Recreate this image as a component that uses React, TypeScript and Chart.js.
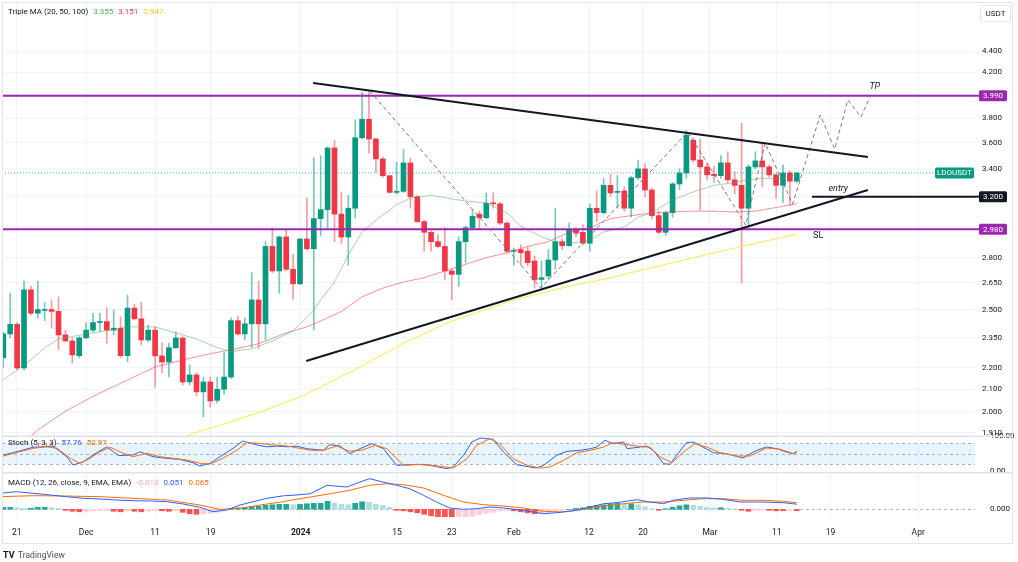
import { useEffect, useRef } from 'react';
import { Chart, registerables } from 'chart.js';

Chart.register(...registerables);

const FONT = 'Roboto, "Liberation Sans", Arial, sans-serif';
const W = 1018;
const H = 562;

// ---------------- data ----------------
// daily candles, index 0 = Nov 19 2023 ... index 115 = Mar 13 2024
const candleOpen = [
  2.25, 2.37, 2.42, 2.20, 2.61, 2.48, 2.495, 2.50, 2.49, 2.365,
  2.334, 2.26, 2.35, 2.39, 2.43, 2.435, 2.39, 2.40, 2.26, 2.508,
  2.45, 2.339, 2.39, 2.259, 2.229, 2.30, 2.349, 2.134, 2.167, 2.088,
  2.134, 2.05, 2.10, 2.157, 2.44, 2.37, 2.423, 2.553, 2.423, 2.87,
  2.72, 2.93, 2.73, 2.645, 2.917, 2.855, 3.05, 3.11, 3.56, 3.08,
  2.93, 3.12, 3.64, 3.79, 3.63, 3.475, 3.35, 3.23, 3.237, 3.445,
  3.20, 3.03, 2.96, 2.90, 2.87, 2.72, 2.70, 2.90, 2.99, 3.08,
  3.055, 3.155, 3.15, 3.02, 2.84, 2.85, 2.84, 2.78, 2.67, 2.69,
  2.786, 2.90, 2.875, 2.975, 2.96, 2.89, 3.12, 3.09, 3.28, 3.23,
  3.24, 3.12, 3.335, 3.40, 3.247, 3.07, 2.96, 3.09, 3.29, 3.37,
  3.62, 3.467, 3.415, 3.36, 3.35, 3.445, 3.32, 3.28, 3.12, 3.415,
  3.46, 3.415, 3.356, 3.28, 3.37, 3.31,
];
const candleHigh = [
  2.38, 2.59, 2.43, 2.66, 2.63, 2.66, 2.54, 2.55, 2.57, 2.39,
  2.35, 2.355, 2.43, 2.48, 2.48, 2.51, 2.498, 2.46, 2.58, 2.53,
  2.54, 2.417, 2.407, 2.323, 2.323, 2.38, 2.355, 2.215, 2.177, 2.157,
  2.157, 2.157, 2.275, 2.455, 2.465, 2.455, 2.71, 2.66, 2.90, 2.99,
  2.935, 2.98, 2.82, 2.92, 3.19, 3.485, 3.50, 3.567, 3.62, 3.233,
  3.21, 3.784, 4.02, 4.04, 3.64, 3.49, 3.35, 3.45, 3.55, 3.48,
  3.21, 3.04, 2.97, 2.945, 2.99, 2.73, 2.93, 3.00, 3.11, 3.10,
  3.226, 3.226, 3.16, 3.03, 2.86, 2.88, 2.87, 2.81, 2.78, 2.85,
  3.12, 2.92, 3.02, 2.99, 3.01, 3.15, 3.24, 3.33, 3.36, 3.35,
  3.27, 3.345, 3.467, 3.44, 3.26, 3.10, 3.10, 3.30, 3.40, 3.70,
  3.64, 3.63, 3.44, 3.42, 3.50, 3.53, 3.38, 3.757, 3.43, 3.53,
  3.60, 3.43, 3.37, 3.43, 3.385, 3.375,
];
const candleLow = [
  2.20, 2.35, 2.19, 2.19, 2.47, 2.455, 2.44, 2.40, 2.29, 2.33,
  2.224, 2.25, 2.345, 2.38, 2.38, 2.323, 2.365, 2.25, 2.229, 2.445,
  2.313, 2.33, 2.11, 2.177, 2.157, 2.295, 2.12, 2.12, 2.07, 1.977,
  2.02, 2.038, 2.078, 2.15, 2.365, 2.339, 2.30, 2.294, 2.339, 2.71,
  2.59, 2.72, 2.558, 2.64, 2.85, 2.391, 2.94, 2.98, 2.90, 2.89,
  2.755, 3.054, 3.63, 3.52, 3.376, 3.34, 3.226, 3.22, 3.23, 3.12,
  3.025, 2.84, 2.84, 2.86, 2.667, 2.553, 2.63, 2.77, 2.98, 2.98,
  3.05, 3.12, 3.01, 2.83, 2.755, 2.755, 2.75, 2.62, 2.62, 2.667,
  2.73, 2.85, 2.87, 2.93, 2.88, 2.84, 3.03, 3.08, 3.20, 3.12,
  3.10, 3.06, 3.32, 3.20, 3.05, 2.95, 2.94, 3.06, 3.25, 3.33,
  3.45, 3.108, 3.32, 3.30, 3.33, 3.30, 3.22, 2.65, 2.99, 3.40,
  3.27, 3.34, 3.19, 3.16, 3.14, 3.30,
];
const candleClose = [
  2.37, 2.42, 2.20, 2.61, 2.48, 2.50, 2.50, 2.49, 2.365, 2.334,
  2.264, 2.35, 2.39, 2.43, 2.435, 2.39, 2.40, 2.26, 2.508, 2.45,
  2.339, 2.39, 2.259, 2.229, 2.30, 2.349, 2.134, 2.167, 2.088, 2.134,
  2.047, 2.10, 2.157, 2.44, 2.37, 2.423, 2.553, 2.423, 2.87, 2.72,
  2.93, 2.73, 2.645, 2.917, 2.855, 3.05, 3.11, 3.559, 3.08, 2.93,
  3.12, 3.64, 3.79, 3.63, 3.475, 3.35, 3.23, 3.237, 3.445, 3.20,
  3.03, 2.96, 2.90, 2.87, 2.72, 2.70, 2.90, 2.99, 3.065, 3.055,
  3.155, 3.15, 3.02, 2.84, 2.845, 2.83, 2.77, 2.667, 2.68, 2.786,
  2.90, 2.875, 2.975, 2.955, 2.89, 3.12, 3.09, 3.28, 3.226, 3.235,
  3.12, 3.335, 3.40, 3.247, 3.07, 2.96, 3.09, 3.29, 3.37, 3.66,
  3.467, 3.415, 3.356, 3.35, 3.445, 3.32, 3.28, 3.12, 3.415, 3.46,
  3.415, 3.356, 3.28, 3.37, 3.31, 3.37,
];

// moving averages: [candle index, value]
const ma20: [number, number][] = [
  [0, 2.143], [2, 2.191], [4, 2.24], [6, 2.30], [8, 2.344], [12, 2.37], [15, 2.386], [18, 2.407],
  [22, 2.407], [25, 2.375], [28, 2.344], [31, 2.30], [33, 2.28], [36, 2.294], [39, 2.334], [42, 2.386],
  [45, 2.498], [46, 2.553], [48, 2.655], [50, 2.817], [52, 2.96], [54, 3.04], [57, 3.142], [59, 3.19],
  [62, 3.21], [65, 3.184], [67, 3.17], [70, 3.155], [73, 3.088], [75, 3.0], [78, 2.93], [80, 2.90],
  [83, 2.893], [85, 2.91], [87, 2.962], [90, 2.995], [92, 3.06], [94, 3.088], [97, 3.177], [100, 3.233],
  [103, 3.28], [106, 3.30], [108, 3.32], [110, 3.33], [112, 3.33], [115, 3.355],
];
const ma50: [number, number][] = [
  [3, 1.87], [5, 1.921], [9, 2.002], [14, 2.083], [18, 2.143], [22, 2.205], [26, 2.239], [30, 2.27],
  [33, 2.289], [37, 2.32], [41, 2.375], [44, 2.407], [46, 2.438], [49, 2.49], [52, 2.57], [55, 2.62],
  [58, 2.655], [61, 2.68], [64, 2.72], [67, 2.76], [70, 2.80], [73, 2.83], [76, 2.87], [79, 2.90],
  [82, 2.96], [85, 2.99], [88, 3.05], [91, 3.07], [94, 3.088], [97, 3.095], [100, 3.10], [103, 3.10],
  [106, 3.095], [109, 3.10], [112, 3.125], [115, 3.151],
];
const ma100: [number, number][] = [
  [25, 1.88], [29, 1.921], [33, 1.955], [38, 2.007], [43, 2.065], [46, 2.11], [52, 2.21], [58, 2.323],
  [65, 2.438], [74, 2.553], [83, 2.64], [87, 2.67], [94, 2.74], [101, 2.81], [108, 2.88], [115, 2.947],
];

// stochastic %K / %D
const stochK: [number, number][] = [
  [0, 46.6], [1.4, 53], [2.9, 61], [4.3, 68.6], [5.8, 70], [7.2, 72], [9.2, 41.7], [10.1, 18], [11.6, 27],
  [13, 46.6], [15, 70], [16.7, 45], [18.8, 46.6], [19.8, 56], [21.7, 41.7], [23.7, 37], [25.6, 34],
  [27.5, 24.6], [28.5, 15], [30, 23], [31.4, 41.7], [33.3, 65.7], [34.7, 86.6], [36.8, 75], [38.2, 70],
  [39.7, 72], [41.1, 70], [42.5, 72], [44, 64.6], [46.4, 60], [47.3, 76], [48.8, 72.3], [50.2, 50.3],
  [51.7, 64.6], [53.4, 78.9], [55.1, 64.6], [57, 17.1], [59.9, 20], [61.8, 17.1], [64.3, 7.4], [65.2, 12.3],
  [66.7, 45.7], [67.9, 83.7], [69.1, 95], [71, 91.4], [72.5, 55], [74.4, 18.9], [76.3, 12.3], [77.3, 9.4],
  [78.3, 17.1], [80.2, 45.7], [81.7, 57.1], [83.6, 60], [85.1, 64.6], [86, 69.4], [87.2, 88.6], [88.4, 78.9],
  [89.9, 83.7], [90.4, 64.6], [92.3, 69.4], [93.2, 72.3], [94.2, 60], [95.7, 21.7], [96.6, 20], [97.6, 45.7],
  [99, 81.7], [100, 83.7], [101.4, 69.4], [102.9, 53.1], [104.8, 50.3], [107.2, 38], [109.2, 60], [110.6, 69.4],
  [112.1, 64.6], [113.5, 55], [114.5, 50.3], [115, 57.76],
];
const stochD: [number, number][] = [
  [0, 43.7], [2.4, 56], [4.3, 65.7], [6.3, 70], [7.8, 65.7], [9.7, 37.1], [11.1, 22.9], [12.6, 37.1],
  [14, 56], [15.5, 68.6], [17.4, 51.4], [18.8, 41.7], [20.8, 51.4], [22.7, 41.7], [24.6, 37.1], [26.6, 32.3],
  [28.5, 22.9], [30, 20.9], [31.8, 37.1], [33.9, 60.9], [35.3, 81.7], [37.2, 80], [39.1, 75.1], [41.1, 72.3],
  [44.5, 60], [46.4, 60], [48.3, 72.3], [50.2, 57.1], [51.9, 60], [54, 74.3], [55.6, 64.6], [58, 17.1],
  [60.9, 20], [63.3, 14.3], [65.2, 9.4], [67.2, 36], [68.6, 74.3], [70.5, 93.1], [71.9, 78.9], [73.9, 36],
  [75.9, 17.1], [77.8, 9.4], [79.2, 12.3], [81.2, 31.4], [83.1, 53.1], [85.1, 60], [87, 69.4], [88.4, 81.7],
  [90.4, 76], [92.8, 69.4], [93.7, 69.4], [95.2, 40.9], [96.9, 24.6], [98.6, 55.1], [100.2, 78.9], [101.9, 69.4],
  [103.9, 53.1], [106.3, 43.7], [108.2, 43.7], [110.6, 66.6], [112.6, 62.9], [114.5, 50.3], [115, 52.97],
];

// MACD line / signal line / histogram
const macdLine: [number, number][] = [
  [-0.5, 0.16], [1.9, 0.176], [4.3, 0.16], [6.8, 0.143], [9.2, 0.126], [11.6, 0.11], [14, 0.103], [16.4, 0.093],
  [18.8, 0.086], [21.3, 0.083], [23.7, 0.076], [26.1, 0.053], [28.5, 0.02], [30.4, -0.024], [32.4, -0.007],
  [34.3, 0.043], [36.2, 0.076], [38.2, 0.11], [40.6, 0.135], [42, 0.14], [44.5, 0.156], [46.9, 0.24],
  [49.8, 0.223], [51.7, 0.273], [53.1, 0.306], [54.6, 0.28], [57, 0.24], [58.9, 0.206], [60.9, 0.14],
  [62.8, 0.073], [64.7, 0.013], [66.7, 0], [68.6, 0.006], [70.5, 0.023], [72.5, 0.013], [75.4, -0.01],
  [78.3, -0.044], [80.2, -0.034], [83.1, -0.01], [85.1, 0.023], [87, 0.056], [88.9, 0.066], [91.8, 0.096],
  [93.7, 0.073], [95.7, 0.056], [97.1, 0.09], [99.5, 0.113], [102.1, 0.113], [104.3, 0.1], [106.8, 0.073],
  [110.1, 0.073], [113.1, 0.066], [115, 0.051],
];
const macdSignal: [number, number][] = [
  [-0.5, 0.126], [4.3, 0.136], [9.2, 0.133], [14, 0.126], [18.8, 0.11], [23.7, 0.093], [28.5, 0.043],
  [31.4, 0.0], [34.3, 0.01], [37.2, 0.043], [40.6, 0.076], [41.6, 0.09], [44.5, 0.123], [47.4, 0.156],
  [50.2, 0.19], [53.1, 0.24], [55.6, 0.256], [58, 0.246], [60.9, 0.213], [63.8, 0.14], [66.7, 0.073],
  [69.6, 0.046], [72.5, 0.033], [75.4, 0.013], [78.3, -0.02], [81.2, -0.027], [84.1, 0], [87, 0.033],
  [89.9, 0.056], [92.8, 0.073], [95.7, 0.073], [98.6, 0.09], [101.4, 0.106], [104.4, 0.106], [107.2, 0.09],
  [110.2, 0.09], [113.1, 0.08], [115, 0.065],
];
const macdHist = [
  0.02, 0.02, 0.015, 0.01, 0.01, 0.02, 0.02, 0.015, 0.01, -0.01,
  -0.02, -0.025, -0.02, -0.015, -0.012, -0.01, -0.02, -0.025, -0.015, -0.02,
  -0.025, -0.02, -0.01, -0.015, -0.02, -0.015, -0.03, -0.045, -0.05, -0.045,
  -0.04, -0.03, -0.015, 0.01, 0.015, 0.02, 0.03, 0.03, 0.04, 0.045,
  0.05, 0.05, 0.045, 0.05, 0.055, 0.06, 0.06, 0.08, 0.06, 0.05,
  0.045, 0.06, 0.075, 0.07, 0.05, 0.04, 0.02, -0.01, -0.015, -0.025,
  -0.035, -0.05, -0.065, -0.085, -0.1, -0.11, -0.1, -0.085, -0.07, -0.05,
  -0.04, -0.03, -0.015, -0.01, -0.015, -0.025, -0.035, -0.045, -0.04, -0.03,
  -0.02, -0.01, 0.0, 0.01, 0.015, 0.03, 0.04, 0.045, 0.055, 0.06,
  0.05, 0.055, 0.045, 0.025, 0.005, -0.01, 0.005, 0.02, 0.035, 0.045,
  0.04, 0.03, 0.02, 0.015, 0.015, 0.01, 0.005, -0.01, -0.02, -0.01,
  -0.005, -0.01, -0.015, -0.015, -0.01, -0.013,
];

// drawings
const upperTrend: [number, number][] = [[44.9, 4.103], [125.3, 3.49]];
const lowerTrend: [number, number][] = [[43.9, 2.234], [125.3, 3.247]];
const zigzag: [number, number][] = [
  [53.1, 4.032], [77.9, 2.621], [99.2, 3.686], [107.6, 3.008], [110.4, 3.598], [114.4, 3.149],
  [118.4, 3.825], [120.5, 3.551], [122.4, 3.953], [124.3, 3.809], [125.6, 3.979],
];
const resistanceLevel = 3.99;
const supportLevel = 2.98;
const entryLevel = 3.2;
const entryStart = 117.2;
const lastPrice = 3.37;
const lastLineEnd = 135;
const tpLabel: [number, number] = [126.3, 4.067];
const entryLabel: [number, number] = [121, 3.254];
const slLabel: [number, number] = [118.1, 2.937];

// axes
const xTickPos = [1.94, 12.0, 22.0, 30.06, 43.1, 57.06, 65.0, 74.0, 84.9, 92.7, 102.4, 112.1, 119.9, 132.6];
const xTickLabels = ['21', 'Dec', '11', '19', '2024', '15', '23', 'Feb', '12', '20', 'Mar', '11', '19', 'Apr'];
const priceTicks = [4.4, 4.2, 4.0, 3.8, 3.6, 3.4, 3.2, 3.0, 2.8, 2.65, 2.5, 2.35, 2.2, 2.1, 2.0, 1.91];
const priceTickHidden = [4.0, 3.2, 3.0];
const stochTicks = [0, 100];
const stochLevels = [80, 50, 20];
const macdTicks = [0];

const X_MIN = -0.19;
const X_MAX = 140.83;
const PRICE_MIN = 1.896;
const PRICE_MAX = 4.887;
const MACD_MIN = -0.077;
const MACD_MAX = 0.353;

// ---------------- styles ----------------
const UP = '#089981';
const DOWN = '#f23645';
const UP_WICK = 'rgba(8,153,129,0.55)';
const DOWN_WICK = 'rgba(242,54,69,0.5)';
const PURPLE = '#9c27b0';
const TEXT = '#131722';
const GRID = '#f0f3fa';
const AXIS_W = 43;

const pts = (a: [number, number][]) => a.map(([x, y]) => ({ x, y }));

function lineDs(a: [number, number][], color: string, width: number, order: number, extra: any = {}) {
  return {
    type: 'line',
    data: pts(a),
    borderColor: color,
    borderWidth: width,
    pointRadius: 0,
    fill: false,
    tension: 0,
    order,
    ...extra,
  };
}

function xScale(showLabels: boolean): any {
  return {
    type: 'linear',
    min: X_MIN,
    max: X_MAX,
    bounds: 'data',
    offset: false,
    grid: { color: GRID, drawTicks: false, offset: false },
    border: { display: false },
    afterBuildTicks: (s: any) => {
      s.ticks = xTickPos.map((v) => ({ value: v }));
    },
    afterFit: (s: any) => {
      s.height = showLabels ? 26 : 0;
      s.paddingLeft = 0;
      s.paddingRight = 0;
    },
    ticks: {
      display: showLabels,
      autoSkip: false,
      maxRotation: 0,
      padding: 11,
      color: TEXT,
      font: (c: any) => ({ family: FONT, size: 8.5, weight: xTickLabels[c.index] === '2024' ? 'bold' : 'normal' }),
      callback: (_v: any, i: number) => xTickLabels[i],
    },
  };
}

function yAxisBase(): any {
  return {
    position: 'right',
    bounds: 'data',
    border: { display: false },
    afterFit: (s: any) => {
      s.width = AXIS_W;
      s.paddingTop = 0;
      s.paddingBottom = 0;
    },
  };
}

function roundRect(ctx: any, x: number, y: number, w: number, h: number, r: number) {
  ctx.beginPath();
  ctx.moveTo(x + r, y);
  ctx.arcTo(x + w, y, x + w, y + h, r);
  ctx.arcTo(x + w, y + h, x, y + h, r);
  ctx.arcTo(x, y + h, x, y, r);
  ctx.arcTo(x, y, x + w, y, r);
  ctx.closePath();
}

function drawLegend(ctx: any, x: number, y: number, parts: [string, string][]) {
  ctx.font = `8px ${FONT}`;
  ctx.textAlign = 'left';
  ctx.textBaseline = 'middle';
  let cx = x;
  parts.forEach(([t, c]) => {
    ctx.fillStyle = c;
    ctx.fillText(t, cx, y);
    cx += ctx.measureText(t).width + 5;
  });
}

const mainOverlay = {
  id: 'mainOverlay',
  afterDraw(chart: any) {
    const { ctx, chartArea: a } = chart;
    const x = chart.scales.x;
    const y = chart.scales.y;
    ctx.save();

    // drawing labels
    ctx.fillStyle = TEXT;
    ctx.textAlign = 'center';
    ctx.textBaseline = 'middle';
    ctx.font = `italic 9px ${FONT}`;
    ctx.fillText('TP', x.getPixelForValue(tpLabel[0]), y.getPixelForValue(tpLabel[1]));
    ctx.fillText('entry', x.getPixelForValue(entryLabel[0]), y.getPixelForValue(entryLabel[1]));
    ctx.font = `9px ${FONT}`;
    ctx.fillText('SL', x.getPixelForValue(slLabel[0]), y.getPixelForValue(slLabel[1]));

    // symbol tag on the last price
    const py = y.getPixelForValue(lastPrice);
    ctx.fillStyle = UP;
    roundRect(ctx, a.right - 40, py - 5.5, 39, 11, 2);
    ctx.fill();
    ctx.fillStyle = '#fff';
    ctx.font = `8px ${FONT}`;
    ctx.fillText('LDOUSDT', a.right - 20.5, py + 0.5);

    // price tags on the axis
    const tag = (v: number, bg: string) => {
      const ty = y.getPixelForValue(v);
      ctx.fillStyle = bg;
      ctx.fillRect(a.right, ty - 1, 6, 2);
      roundRect(ctx, a.right + 4, ty - 5.5, 28, 11, 1.5);
      ctx.fill();
      ctx.fillStyle = '#fff';
      ctx.font = `8px ${FONT}`;
      ctx.textAlign = 'center';
      ctx.fillText(v.toFixed(3), a.right + 18, ty + 0.5);
    };
    tag(resistanceLevel, PURPLE);
    tag(entryLevel, TEXT);
    tag(supportLevel, PURPLE);

    // currency box
    ctx.strokeStyle = '#e0e3eb';
    ctx.lineWidth = 1;
    roundRect(ctx, a.right + 5.5, 5.5, 30, 16, 3);
    ctx.fillStyle = '#fff';
    ctx.fill();
    ctx.stroke();
    ctx.fillStyle = TEXT;
    ctx.font = `8px ${FONT}`;
    ctx.textAlign = 'center';
    ctx.fillText('USDT', a.right + 20.5, 14);

    // legend
    drawLegend(ctx, 8, 12, [
      ['Triple MA (20, 50, 100)', TEXT],
      [ma20[ma20.length - 1][1].toFixed(3), '#4caf50'],
      [ma50[ma50.length - 1][1].toFixed(3), '#f23645'],
      [ma100[ma100.length - 1][1].toFixed(3), '#e3d400'],
    ]);
    ctx.restore();
  },
};

const stochOverlay = {
  id: 'stochOverlay',
  beforeDatasetsDraw(chart: any) {
    const { ctx, chartArea: a } = chart;
    const y = chart.scales.y;
    ctx.save();
    const y80 = y.getPixelForValue(stochLevels[0]);
    const y20 = y.getPixelForValue(stochLevels[2]);
    ctx.fillStyle = 'rgba(33,150,243,0.1)';
    ctx.fillRect(a.left, y80, a.right - a.left, y20 - y80);
    ctx.strokeStyle = 'rgba(120,123,134,0.55)';
    ctx.lineWidth = 1;
    ctx.setLineDash([3, 3]);
    stochLevels.forEach((v) => {
      const ly = Math.round(y.getPixelForValue(v)) + 0.5;
      ctx.beginPath();
      ctx.moveTo(a.left, ly);
      ctx.lineTo(a.right, ly);
      ctx.stroke();
    });
    ctx.restore();
  },
  afterDraw(chart: any) {
    const { ctx } = chart;
    ctx.save();
    drawLegend(ctx, 8, 443, [
      ['Stoch (5, 3, 3)', TEXT],
      [stochK[stochK.length - 1][1].toFixed(2), '#2962ff'],
      [stochD[stochD.length - 1][1].toFixed(2), '#ff6d00'],
    ]);
    ctx.restore();
  },
};

const macdOverlay = {
  id: 'macdOverlay',
  beforeDatasetsDraw(chart: any) {
    const { ctx, chartArea: a } = chart;
    const y = chart.scales.y;
    ctx.save();
    ctx.strokeStyle = 'rgba(120,123,134,0.55)';
    ctx.lineWidth = 1;
    ctx.setLineDash([3, 3]);
    const ly = Math.round(y.getPixelForValue(0)) + 0.5;
    ctx.beginPath();
    ctx.moveTo(a.left, ly);
    ctx.lineTo(a.right, ly);
    ctx.stroke();
    ctx.restore();
  },
  afterDraw(chart: any) {
    const { ctx } = chart;
    ctx.save();
    drawLegend(ctx, 8, 483, [
      ['MACD (12, 26, close, 9, EMA, EMA)', TEXT],
      [macdHist[macdHist.length - 1].toFixed(3), '#f7a6ad'],
      [macdLine[macdLine.length - 1][1].toFixed(3), '#2962ff'],
      [macdSignal[macdSignal.length - 1][1].toFixed(3), '#ff6d00'],
    ]);
    // pane separators and frame
    ctx.fillStyle = '#e0e3eb';
    ctx.fillRect(2, 435.5, 1011, 1.5);
    ctx.fillRect(2, 472, 1011, 1.5);
    ctx.strokeStyle = '#e0e3eb';
    ctx.lineWidth = 1;
    ctx.strokeRect(2.5, 2.5, 1010, 541);
    // logo
    ctx.fillStyle = TEXT;
    ctx.font = `bold 9px ${FONT}`;
    ctx.textAlign = 'left';
    ctx.textBaseline = 'middle';
    ctx.fillText('TV', 3, 556);
    ctx.fillStyle = '#50535e';
    ctx.font = `8.5px ${FONT}`;
    ctx.fillText('TradingView', 18, 556);
    ctx.restore();
  },
};

const commonOptions = {
  responsive: false,
  animation: false,
  events: [],
  plugins: { legend: { display: false }, tooltip: { enabled: false } },
};

function mainConfig(): any {
  const up = candleOpen.map((o, i) => candleClose[i] >= o);
  const bodies = candleOpen.map((o, i) => ({ x: i, y: [o, candleClose[i]] }));
  const wicks = candleLow.map((l, i) => ({ x: i, y: [l, candleHigh[i]] }));
  return {
    type: 'bar',
    data: {
      datasets: [
        lineDs(upperTrend, TEXT, 2, 0),
        lineDs(lowerTrend, TEXT, 2, 0),
        lineDs(zigzag, '#787b86', 1, 0, { borderDash: [4, 3] }),
        lineDs([[X_MIN, resistanceLevel], [X_MAX, resistanceLevel]], PURPLE, 2, 0),
        lineDs([[X_MIN, supportLevel], [X_MAX, supportLevel]], PURPLE, 2, 0),
        lineDs([[entryStart, entryLevel], [X_MAX, entryLevel]], TEXT, 2, 0),
        lineDs([[X_MIN, lastPrice], [lastLineEnd, lastPrice]], 'rgba(8,153,129,0.75)', 1, 1, { borderDash: [1, 2] }),
        lineDs(ma20, 'rgba(76,175,80,0.5)', 1, 1),
        lineDs(ma50, 'rgba(242,54,69,0.55)', 1, 1),
        lineDs(ma100, 'rgba(250,230,40,0.85)', 1, 1),
        {
          type: 'bar',
          data: bodies,
          backgroundColor: up.map((u) => (u ? UP : DOWN)),
          barThickness: 5,
          grouped: false,
          minBarLength: 1,
          order: 2,
        },
        {
          type: 'bar',
          data: wicks,
          backgroundColor: up.map((u) => (u ? UP_WICK : DOWN_WICK)),
          barThickness: 1,
          grouped: false,
          order: 3,
        },
      ],
    },
    options: {
      ...commonOptions,
      layout: { padding: { left: 2, right: 0, top: 3, bottom: 126 } },
      scales: {
        x: xScale(false),
        y: {
          ...yAxisBase(),
          type: 'logarithmic',
          min: PRICE_MIN,
          max: PRICE_MAX,
          grid: { color: GRID, drawTicks: false },
          afterBuildTicks: (s: any) => {
            s.ticks = priceTicks.map((v) => ({ value: v }));
          },
          ticks: {
            autoSkip: false,
            padding: 7,
            color: TEXT,
            font: { family: FONT, size: 8 },
            callback: (v: number) => (priceTickHidden.includes(v) ? '' : Number(v).toFixed(3)),
          },
        },
      },
    },
    plugins: [mainOverlay],
  };
}

function stochConfig(): any {
  return {
    type: 'line',
    data: {
      datasets: [
        lineDs(stochK, '#2962ff', 1, 1),
        lineDs(stochD, '#ff6d00', 1, 0),
      ],
    },
    options: {
      ...commonOptions,
      layout: { padding: { left: 2, right: 0, top: 436.3, bottom: 90.7 } },
      scales: {
        x: xScale(false),
        y: {
          ...yAxisBase(),
          type: 'linear',
          min: 0,
          max: 100,
          grid: { display: false },
          afterBuildTicks: (s: any) => {
            s.ticks = stochTicks.map((v) => ({ value: v }));
          },
          ticks: {
            autoSkip: false,
            padding: 7,
            color: TEXT,
            font: { family: FONT, size: 8 },
            callback: (v: number) => Number(v).toFixed(2),
          },
        },
      },
    },
    plugins: [stochOverlay],
  };
}

function macdConfig(): any {
  const colors = macdHist.map((v, i) => {
    const prev = i > 0 ? macdHist[i - 1] : v;
    if (v >= 0) return v >= prev ? '#26a69a' : '#b2dfdb';
    return v <= prev ? '#ff5252' : '#ffcdd2';
  });
  return {
    type: 'bar',
    data: {
      datasets: [
        lineDs(macdLine, '#2962ff', 1, 0),
        lineDs(macdSignal, '#ff6d00', 1, 0),
        {
          type: 'bar',
          data: macdHist.map((v, i) => ({ x: i, y: v })),
          backgroundColor: colors,
          barThickness: 5,
          grouped: false,
          order: 2,
        },
      ],
    },
    options: {
      ...commonOptions,
      layout: { padding: { left: 2, right: 0, top: 474, bottom: 19 } },
      scales: {
        x: xScale(true),
        y: {
          ...yAxisBase(),
          type: 'linear',
          min: MACD_MIN,
          max: MACD_MAX,
          grid: { display: false },
          afterBuildTicks: (s: any) => {
            s.ticks = macdTicks.map((v) => ({ value: v }));
          },
          ticks: {
            autoSkip: false,
            padding: 7,
            color: TEXT,
            font: { family: FONT, size: 8 },
            callback: (v: number) => Number(v).toFixed(3),
          },
        },
      },
    },
    plugins: [macdOverlay],
  };
}

export default function App() {
  const mainRef = useRef<HTMLCanvasElement>(null);
  const stochRef = useRef<HTMLCanvasElement>(null);
  const macdRef = useRef<HTMLCanvasElement>(null);

  useEffect(() => {
    const charts = [
      new Chart(mainRef.current as HTMLCanvasElement, mainConfig()),
      new Chart(stochRef.current as HTMLCanvasElement, stochConfig()),
      new Chart(macdRef.current as HTMLCanvasElement, macdConfig()),
    ];
    return () => charts.forEach((c) => c.destroy());
  }, []);

  const cs: any = { position: 'absolute', left: 0, top: 0, width: W, height: H };
  return (
    <div style={{ position: 'absolute', left: 0, top: 0, width: W, height: H, background: '#fff', overflow: 'hidden' }}>
      <canvas ref={mainRef} width={W} height={H} style={cs} />
      <canvas ref={stochRef} width={W} height={H} style={cs} />
      <canvas ref={macdRef} width={W} height={H} style={cs} />
    </div>
  );
}
